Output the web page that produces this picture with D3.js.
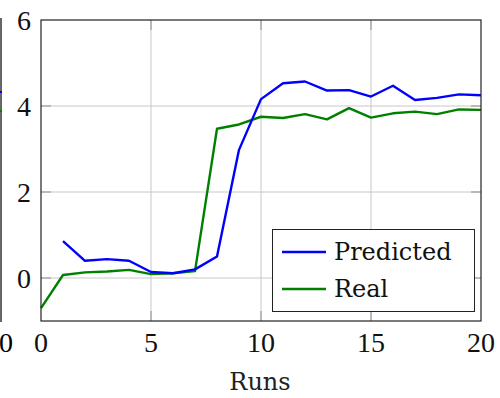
<!DOCTYPE html>
<html><head><meta charset="utf-8">
<script src="https://cdn.jsdelivr.net/npm/d3@7"></script>
<style>body{margin:0;background:#fff}svg{display:block}</style>
</head><body>
<script>
const runsPred = [1,2,3,4,5,6,7,8,9,10,11,12,13,14,15,16,17,18,19,20];
const predicted = [0.86,0.40,0.44,0.40,0.14,0.11,0.20,0.50,2.98,4.16,4.53,4.57,4.36,4.37,4.22,4.47,4.14,4.19,4.27,4.25];
const runsReal = [0,1,2,3,4,5,6,7,8,9,10,11,12,13,14,15,16,17,18,19,20];
const real = [-0.70,0.07,0.13,0.15,0.19,0.09,0.11,0.16,3.47,3.57,3.75,3.72,3.81,3.69,3.95,3.73,3.83,3.87,3.81,3.92,3.91];
const xTicks = [0,5,10,15,20];
const yTicks = [0,2,4,6];
const seriesNames = ["Predicted","Real"];
const seriesColors = ["#0000ff","#008000"];

const W=500,H=398;
const svg=d3.select("body").append("svg").attr("width",W).attr("height",H);
const x=d3.scaleLinear().domain([0,20]).range([41,481]);
const y=d3.scaleLinear().domain([-1,6]).range([321,20]);

// sliver of neighbouring plot
svg.append("rect").attr("x",0).attr("y",18).attr("width",2).attr("height",304).attr("fill","#666");
svg.append("rect").attr("x",0).attr("y",91).attr("width",2).attr("height",2).attr("fill","#0000ff");
svg.append("rect").attr("x",0).attr("y",110).attr("width",2).attr("height",2).attr("fill","#008000");
svg.append("text").attr("x",6).attr("y",352).attr("text-anchor","middle")
  .attr("font-family","Liberation Serif").attr("font-size",28).text("0");

// grid
const g=svg.append("g");
g.selectAll(".gx").data(xTicks.filter(d=>d>0&&d<20)).join("line")
  .attr("x1",d=>x(d)).attr("x2",d=>x(d)).attr("y1",y(-1)).attr("y2",y(6))
  .attr("stroke","#c8c8c8").attr("stroke-width",1);
g.selectAll(".gy").data(yTicks.filter(d=>d<6)).join("line")
  .attr("y1",d=>y(d)).attr("y2",d=>y(d)).attr("x1",x(0)).attr("x2",x(20))
  .attr("stroke","#c8c8c8").attr("stroke-width",1);
// inner ticks
const tk=[];
xTicks.filter(d=>d>0&&d<20).forEach(d=>{tk.push([x(d),y(-1),x(d),y(-1)-10]);tk.push([x(d),y(6),x(d),y(6)+10]);});
yTicks.filter(d=>d<6).forEach(d=>{tk.push([x(0),y(d),x(0)+10,y(d)]);tk.push([x(20),y(d),x(20)-10,y(d)]);});
g.selectAll(".tk").data(tk).join("line")
  .attr("x1",d=>d[0]).attr("y1",d=>d[1]).attr("x2",d=>d[2]).attr("y2",d=>d[3])
  .attr("stroke","#909090").attr("stroke-width",1);

// lines
const line=d3.line().x(d=>x(d[0])).y(d=>y(d[1]));
svg.append("path").datum(runsReal.map((r,i)=>[r,real[i]])).attr("d",line)
  .attr("fill","none").attr("stroke",seriesColors[1]).attr("stroke-width",2.4).attr("stroke-linejoin","round");
svg.append("path").datum(runsPred.map((r,i)=>[r,predicted[i]])).attr("d",line)
  .attr("fill","none").attr("stroke",seriesColors[0]).attr("stroke-width",2.4).attr("stroke-linejoin","round");

// frame
svg.append("rect").attr("x",x(0)).attr("y",y(6)).attr("width",x(20)-x(0)).attr("height",y(-1)-y(6))
  .attr("fill","none").attr("stroke","#222").attr("stroke-width",1.2);

// tick labels
svg.selectAll(".xl").data(xTicks).join("text")
  .attr("x",d=>x(d)).attr("y",352).attr("text-anchor","middle")
  .attr("font-family","Liberation Serif").attr("font-size",28).attr("fill","#111").text(d=>d);
svg.selectAll(".yl").data(yTicks).join("text")
  .attr("x",31).attr("y",d=>y(d)+10).attr("text-anchor","end")
  .attr("font-family","Liberation Serif").attr("font-size",28).attr("fill","#111").text(d=>d);
svg.append("text").attr("x",260).attr("y",390).attr("text-anchor","middle")
  .attr("font-family","DejaVu Serif").attr("font-size",24).attr("fill","#222").text("Runs");

// legend
const lg=svg.append("g");
lg.append("rect").attr("x",272.5).attr("y",229.5).attr("width",202).attr("height",82)
  .attr("fill","#fff").attr("stroke","#222").attr("stroke-width",1);
seriesNames.forEach((n,i)=>{
  const yy=252+i*37;
  lg.append("line").attr("x1",282).attr("x2",326).attr("y1",yy).attr("y2",yy)
    .attr("stroke",seriesColors[i]).attr("stroke-width",2.4);
  lg.append("text").attr("x",334).attr("y",yy+8).attr("font-family","DejaVu Serif")
    .attr("font-size",24).attr("fill","#111").text(n);
});
</script>
</body></html>
